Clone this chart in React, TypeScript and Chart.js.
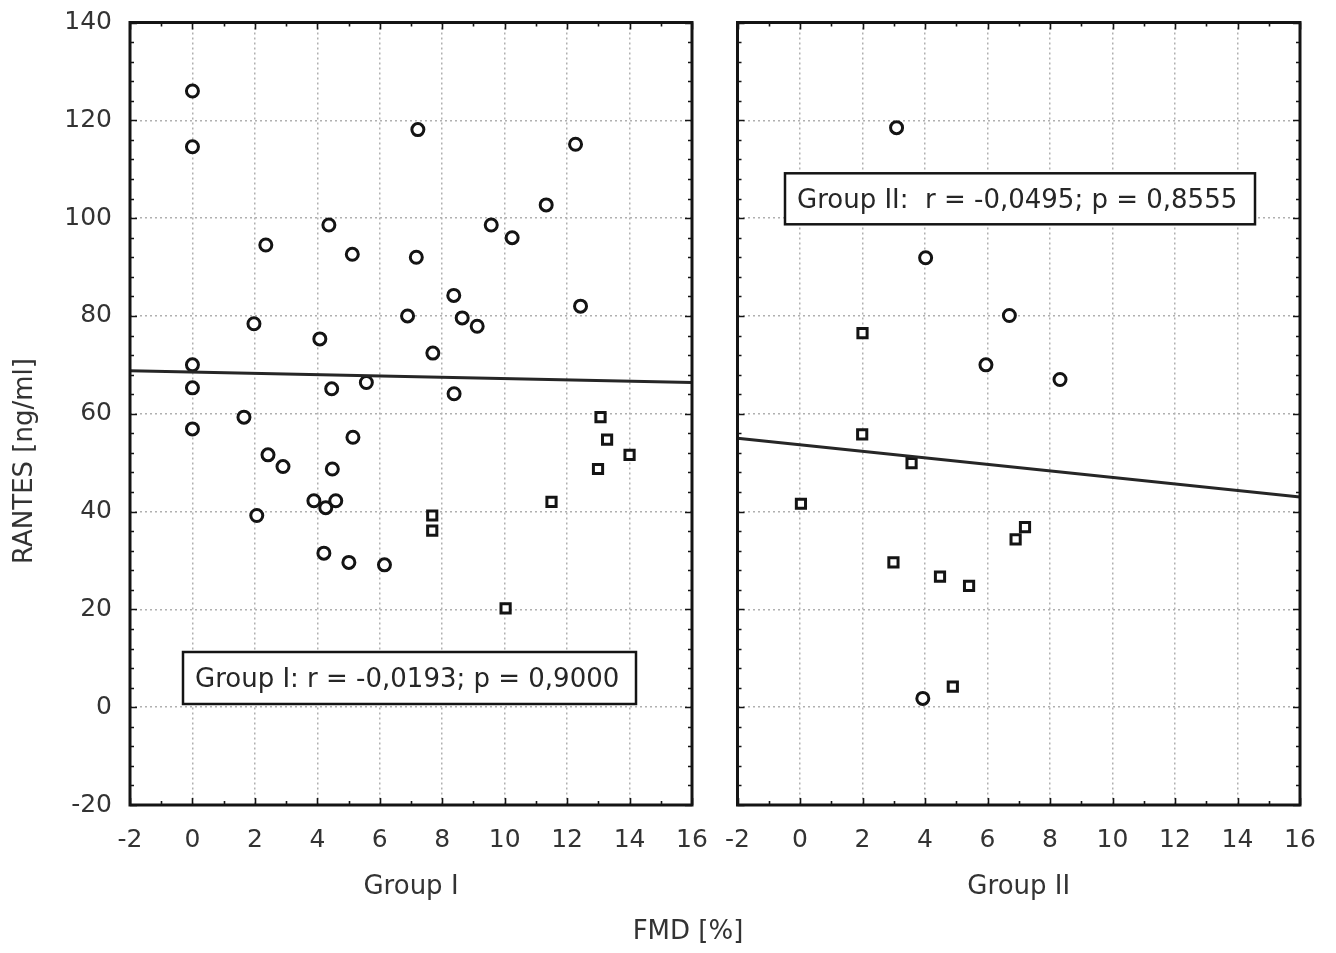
import React, { useEffect, useRef } from 'react';
import { Chart, registerables } from 'chart.js';

Chart.register(...registerables);

// ---------- data ----------
const X_MIN = -2;
const X_MAX = 16;
const X_STEP = 2;
const Y_MIN = -20;
const Y_MAX = 140;
const Y_STEP = 20;

const group1CircleX = [0, 0, 0, 0, 0, 1.65, 1.97, 2.06, 2.35, 2.42, 2.9, 3.89, 4.08, 4.21, 4.27, 4.37, 4.46, 4.48, 4.59, 5.01, 5.12, 5.14, 5.57, 6.15, 6.89, 7.17, 7.22, 7.7, 8.37, 8.38, 8.64, 9.12, 9.57, 10.24, 11.33, 12.27, 12.43];
const group1CircleY = [126.0, 114.6, 70.0, 65.3, 56.9, 59.3, 78.4, 39.2, 94.5, 51.6, 49.2, 42.2, 75.3, 31.5, 40.8, 98.6, 65.1, 48.7, 42.2, 29.6, 92.6, 55.2, 66.4, 29.1, 80.0, 92.0, 118.1, 72.4, 84.2, 64.1, 79.6, 77.9, 98.6, 96.0, 102.7, 115.1, 82.0];

const group1SquareX = [13.07, 13.28, 14.0, 12.99, 11.5, 7.68, 7.68, 10.03];
const group1SquareY = [59.3, 54.7, 51.6, 48.7, 42.0, 39.2, 36.1, 20.2];

const group1FitX = [-2, 16];
const group1FitY = [68.8, 66.4];

const group2CircleX = [3.09, 4.02, 6.7, 5.95, 8.32, 3.93];
const group2CircleY = [118.5, 91.9, 80.1, 70.0, 67.0, 1.8];

const group2SquareX = [2.0, 1.99, 3.57, 0.03, 7.2, 6.9, 2.99, 4.48, 5.41, 4.89];
const group2SquareY = [76.5, 55.8, 49.9, 41.6, 36.8, 34.3, 29.6, 26.7, 24.8, 4.2];

const group2FitX = [-2, 16];
const group2FitY = [55.0, 43.0];

const group1Label = 'Group I';
const group2Label = 'Group II';
const group1Note = 'Group I: r = -0,0193; p = 0,9000';
const group2Note = 'Group II:  r = -0,0495; p = 0,8555';
const yTitle = 'RANTES [ng/ml]';
const xTitle = 'FMD [%]';

// ---------- helpers ----------
const FONT = 'DejaVu Sans';
const TEXT = '#333333';
const INK = '#141414';

const pts = (xs: number[], ys: number[]) => xs.map((x, i) => ({ x, y: ys[i] }));

const panelPlugin = {
  id: 'panel',
  afterDraw(chart: any, _args: any, opts: any) {
    const { ctx, chartArea: a, scales } = chart;
    const xs = scales.x;
    const ys = scales.y;
    ctx.save();
    // annotation box
    if (opts.note) {
      const n = opts.note;
      const bx = a.left + n.dx;
      const by = a.top + n.dy;
      ctx.fillStyle = '#ffffff';
      ctx.fillRect(bx, by, n.w, n.h);
      ctx.lineWidth = 2.5;
      ctx.strokeStyle = INK;
      ctx.strokeRect(bx, by, n.w, n.h);
      ctx.font = `26px "${FONT}"`;
      ctx.fillStyle = '#262626';
      ctx.textAlign = 'left';
      ctx.textBaseline = 'alphabetic';
      ctx.fillText(n.text, bx + 12, by + 35);
    }
    // inward tick marks on all four sides
    ctx.strokeStyle = INK;
    ctx.lineWidth = 1.6;
    ctx.beginPath();
    for (let v = X_MIN; v <= X_MAX; v += 1) {
      const px = Math.round(xs.getPixelForValue(v)) + 0.5;
      const len = v % X_STEP === 0 ? 7 : 4;
      ctx.moveTo(px, a.bottom);
      ctx.lineTo(px, a.bottom - len);
      ctx.moveTo(px, a.top);
      ctx.lineTo(px, a.top + len);
    }
    for (let v = Y_MIN; v <= Y_MAX; v += 4) {
      const py = Math.round(ys.getPixelForValue(v)) + 0.5;
      const len = v % Y_STEP === 0 ? 7 : 4;
      ctx.moveTo(a.left, py);
      ctx.lineTo(a.left + len, py);
      ctx.moveTo(a.right, py);
      ctx.lineTo(a.right - len, py);
    }
    ctx.stroke();
    // frame
    ctx.lineWidth = 3;
    ctx.strokeRect(a.left, a.top, a.right - a.left, a.bottom - a.top);
    // free texts
    if (opts.texts) {
      ctx.fillStyle = TEXT;
      ctx.font = `26px "${FONT}"`;
      ctx.textAlign = 'center';
      ctx.textBaseline = 'middle';
      for (const t of opts.texts) {
        ctx.save();
        ctx.translate(t.x, t.y);
        if (t.rot) ctx.rotate(t.rot);
        ctx.fillText(t.text, 0, 0);
        ctx.restore();
      }
    }
    ctx.restore();
  },
};

const gridOpts = {
  color: '#b0b0b0',
  lineWidth: 1.5,
  drawTicks: false,
  tickLength: 0,
  borderDash: [2, 3],
};
const borderOpts = { display: false, dash: [2, 3] };
const tickFont = { family: FONT, size: 25 };
const titleFont = { family: FONT, size: 26 };

function buildConfig(opts: {
  circles: { x: number; y: number }[];
  squares: { x: number; y: number }[];
  fit: { x: number; y: number }[];
  label: string;
  showY: boolean;
  yWidth: number;
  padRight: number;
  note: any;
  texts?: any[];
}): any {
  return {
    type: 'scatter',
    data: {
      datasets: [
        {
          type: 'line',
          data: opts.fit,
          borderColor: '#262626',
          borderWidth: 3,
          pointRadius: 0,
          showLine: true,
          fill: false,
        },
        {
          data: opts.circles,
          pointStyle: 'circle',
          pointRadius: 6,
          borderWidth: 3,
          borderColor: INK,
          backgroundColor: '#ffffff',
        },
        {
          data: opts.squares,
          pointStyle: 'rect',
          pointRadius: 6.5,
          borderWidth: 3,
          borderColor: INK,
          backgroundColor: '#ffffff',
        },
      ],
    },
    options: {
      responsive: false,
      animation: false,
      devicePixelRatio: 1,
      layout: { padding: { left: 0, right: opts.padRight, top: 22.5, bottom: 0 } },
      plugins: {
        legend: { display: false },
        tooltip: { enabled: false },
        panel: { note: opts.note, texts: opts.texts },
      },
      scales: {
        x: {
          type: 'linear',
          min: X_MIN,
          max: X_MAX,
          ticks: {
            stepSize: X_STEP,
            font: tickFont,
            color: TEXT,
            padding: 20,
            maxRotation: 0,
            autoSkip: false,
          },
          grid: gridOpts,
          border: borderOpts,
          title: {
            display: true,
            text: opts.label,
            font: titleFont,
            color: TEXT,
            padding: { top: 0, bottom: 50 },
          },
          afterFit: (s: any) => {
            s.height = 148;
            s.paddingLeft = 0;
            s.paddingRight = 0;
          },
        },
        y: {
          type: 'linear',
          min: Y_MIN,
          max: Y_MAX,
          ticks: {
            display: opts.showY,
            stepSize: Y_STEP,
            font: tickFont,
            color: TEXT,
            padding: 18,
          },
          grid: gridOpts,
          border: borderOpts,
          afterFit: (s: any) => {
            s.width = opts.yWidth;
            s.paddingTop = 0;
            s.paddingBottom = 0;
          },
        },
      },
    },
    plugins: [panelPlugin],
  };
}

export default function App() {
  const leftRef = useRef<HTMLCanvasElement | null>(null);
  const rightRef = useRef<HTMLCanvasElement | null>(null);

  useEffect(() => {
    Chart.defaults.font.family = FONT;
    const left = new Chart(
      leftRef.current as HTMLCanvasElement,
      buildConfig({
        circles: pts(group1CircleX, group1CircleY),
        squares: pts(group1SquareX, group1SquareY),
        fit: pts(group1FitX, group1FitY),
        label: group1Label,
        showY: true,
        yWidth: 130,
        padRight: 1336 - 692,
        note: { text: group1Note, dx: 53, dy: 629.5, w: 453, h: 52 },
        texts: [
          { text: yTitle, x: 25, y: 461, rot: -Math.PI / 2 },
          { text: xTitle, x: 688, y: 932 },
        ],
      })
    );
    const right = new Chart(
      rightRef.current as HTMLCanvasElement,
      buildConfig({
        circles: pts(group2CircleX, group2CircleY),
        squares: pts(group2SquareX, group2SquareY),
        fit: pts(group2FitX, group2FitY),
        label: group2Label,
        showY: false,
        yWidth: 22.5,
        padRight: 621 - 585,
        note: { text: group2Note, dx: 47.5, dy: 150.8, w: 470, h: 51 },
      })
    );
    return () => {
      left.destroy();
      right.destroy();
    };
  }, []);

  return (
    <div
      style={{
        position: 'fixed',
        left: 0,
        top: 0,
        width: 1336,
        height: 953,
        background: '#ffffff',
        overflow: 'hidden',
      }}
    >
      <canvas
        ref={leftRef}
        width={1336}
        height={953}
        style={{ position: 'absolute', left: 0, top: 0, width: 1336, height: 953 }}
      />
      <canvas
        ref={rightRef}
        width={621}
        height={953}
        style={{ position: 'absolute', left: 715, top: 0, width: 621, height: 953 }}
      />
    </div>
  );
}
